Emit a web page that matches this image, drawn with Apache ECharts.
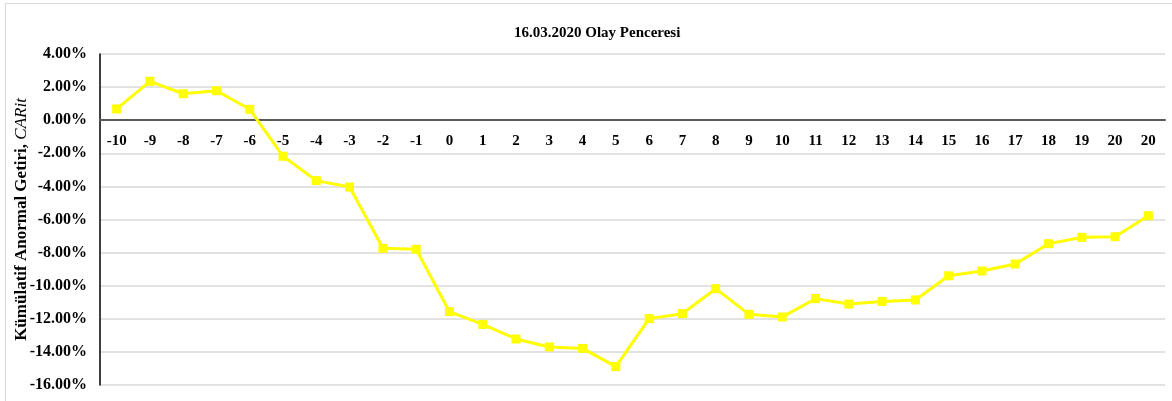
<!DOCTYPE html>
<html>
<head>
<meta charset="utf-8">
<script src="https://cdn.jsdelivr.net/npm/echarts@6/dist/echarts.min.js"></script>
<style>
html,body{margin:0;padding:0;background:#fff;}
#chart{width:1172px;height:401px;}
</style>
</head>
<body>
<div id="chart"></div>
<script>
var title = '16.03.2020 Olay Penceresi';
var categories = ['-10','-9','-8','-7','-6','-5','-4','-3','-2','-1','0','1','2','3','4','5','6','7','8','9','10','11','12','13','14','15','16','17','18','19','20','20'];
var carValues = [0.68, 2.35, 1.60, 1.78, 0.66, -2.18, -3.65, -4.04, -7.74, -7.80, -11.57, -12.34, -13.22, -13.70, -13.79, -14.89, -11.99, -11.69, -10.18, -11.73, -11.89, -10.78, -11.11, -10.95, -10.86, -9.40, -9.11, -8.69, -7.46, -7.08, -7.04, -5.77];
var yMin = -16, yMax = 4, yStep = 2;

var serif = '"Liberation Serif", "DejaVu Serif", serif';
var gridTop = 54, gridBottom = 16, H = 401;
var chart = echarts.init(document.getElementById('chart'));
chart.setOption({
  animation: false,
  backgroundColor: '#fff',
  title: {
    text: title, left: 509, top: 21,
    textStyle: {fontFamily: serif, fontWeight: 'bold', fontSize: 15, color: '#000'}
  },
  graphic: [
    {type: 'line', shape: {x1: 5, y1: 3.5, x2: 1172, y2: 3.5}, style: {stroke: '#d9d9d9', lineWidth: 1}},
    {type: 'line', shape: {x1: 5.5, y1: 3, x2: 5.5, y2: 401}, style: {stroke: '#d9d9d9', lineWidth: 1}}
  ],
  grid: {left: 100, right: 7, top: gridTop, bottom: gridBottom, containLabel: false, outerBoundsMode: 'none'},
  xAxis: {
    type: 'category', data: categories, boundaryGap: true, position: 'bottom', offset: 0,
    axisLine: {onZero: false, lineStyle: {color: '#595959', width: 2}},
    axisTick: {show: false},
    axisLabel: {interval: 0, fontFamily: serif, fontWeight: 'bold', fontSize: 15, color: '#000', margin: 13},
    splitLine: {show: false}
  },
  yAxis: {
    type: 'value', min: yMin, max: yMax, interval: yStep,
    name: '{b|Kümülatif Anormal Getiri, }{i|CARit}',
    nameLocation: 'middle', nameRotate: 90, nameGap: 70, nameMoveOverlap: false,
    nameTextStyle: {
      rich: {
        b: {fontFamily: serif, fontWeight: 'bold', fontSize: 17, color: '#000'},
        i: {fontFamily: serif, fontWeight: 'normal', fontStyle: 'italic', fontSize: 17, color: '#000'}
      }
    },
    axisLine: {show: true, onZero: false, lineStyle: {color: '#000', width: 1.5}},
    axisTick: {show: false},
    axisLabel: {
      fontFamily: serif, fontWeight: 'bold', fontSize: 16, color: '#000', margin: 13,
      formatter: function (v) { return v.toFixed(2) + '%'; }
    },
    splitLine: {show: true, lineStyle: {color: '#d9d9d9', width: 1.5}}
  },
  series: [{
    type: 'line', data: carValues,
    lineStyle: {color: '#ffff00', width: 3},
    itemStyle: {color: '#ffff00'},
    symbol: 'rect', symbolSize: 9, showSymbol: true
  }]
});
// place the category axis on the zero line, using the value axis scale
var zeroPx = chart.convertToPixel({yAxisIndex: 0}, 0);
chart.setOption({xAxis: {offset: -((H - gridBottom) - zeroPx)}});
</script>
</body>
</html>
